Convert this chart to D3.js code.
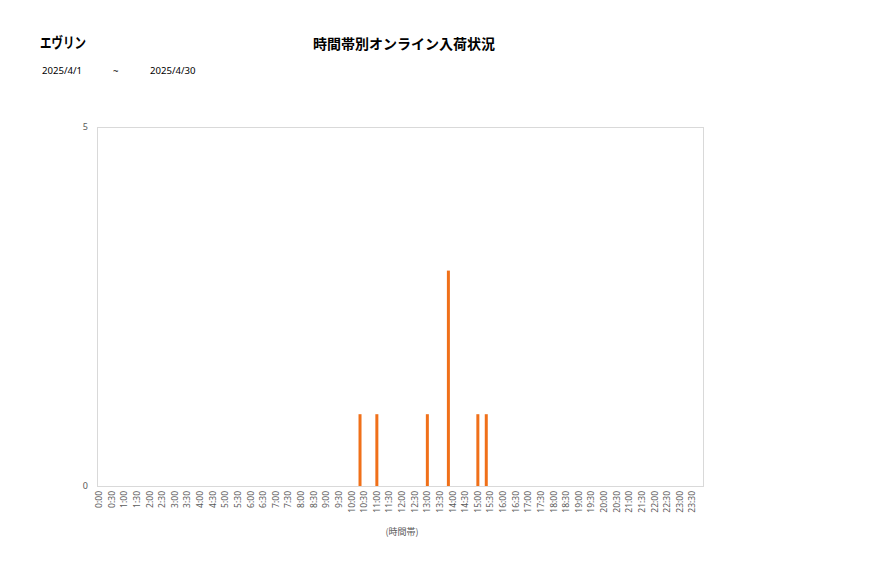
<!DOCTYPE html>
<html>
<head>
<meta charset="utf-8">
<script src="https://cdn.jsdelivr.net/npm/d3@7"></script>
<style>
html,body{margin:0;padding:0;background:#fff;}
svg{display:block;}
text{font-family:"Noto Sans CJK JP","Noto Sans",sans-serif;}
</style>
</head>
<body>
<svg id="chart" width="877" height="578"></svg>
<script>
// ---- data ----
const storeName = "エヴリン";
const chartTitle = "時間帯別オンライン入荷状況";
const dateFrom = "2025/4/1";
const dateSep = "~";
const dateTo = "2025/4/30";
const xAxisTitle = "(時間帯)";
// x-axis tick labels (every 30 minutes)
const tickLabels = ["0:00","0:30","1:00","1:30","2:00","2:30","3:00","3:30","4:00","4:30","5:00","5:30",
  "6:00","6:30","7:00","7:30","8:00","8:30","9:00","9:30","10:00","10:30","11:00","11:30",
  "12:00","12:30","13:00","13:30","14:00","14:30","15:00","15:30","16:00","16:30","17:00","17:30",
  "18:00","18:30","19:00","19:30","20:00","20:30","21:00","21:30","22:00","22:30","23:00","23:30"];
// 10-minute slots (category axis)
const slots = [];
for (let h = 0; h < 24; h++) for (let m = 0; m < 60; m += 10) slots.push(h + ":" + String(m).padStart(2, "0"));
// series: arrivals per slot (non-zero only)
const arrivalTimes = ["10:20","11:00","13:00","13:50","15:00","15:20"];
const arrivalCounts = [1, 1, 1, 3, 1, 1];
const yTicks = [0, 5];

// ---- chart ----
const svg = d3.select("#chart");
const plot = {left: 97, right: 703, top: 127, bottom: 486};

const xc = d3.scaleBand().domain(slots).range([plot.left, plot.right]);
const y = d3.scaleLinear().domain([0, 5]).range([plot.bottom, plot.top]);

// frame
svg.append("rect")
  .attr("x", plot.left + 0.5).attr("y", plot.top + 0.5)
  .attr("width", plot.right - plot.left).attr("height", plot.bottom - plot.top)
  .attr("fill", "none").attr("stroke", "#d9d9d9").attr("stroke-width", 1);

// bars
const data = arrivalTimes.map((t, i) => ({t, v: arrivalCounts[i]}));
svg.append("g").selectAll("rect").data(data).join("rect")
  .attr("x", d => xc(d.t) + xc.bandwidth() / 2 - 1.5)
  .attr("width", 3)
  .attr("y", d => y(d.v))
  .attr("height", d => y(0) - y(d.v))
  .attr("fill", "#f07019");

// y axis labels
const yAxis = d3.axisLeft(y).tickValues(yTicks).tickSize(0).tickPadding(8).tickFormat(d3.format("d"));
const gy = svg.append("g").attr("transform", `translate(${plot.left - 1},0)`).call(yAxis);
gy.select(".domain").remove();
gy.selectAll("text").attr("fill", "#595959").style("font-size", "9px")
  .style("font-family", '"Noto Sans","DejaVu Sans",sans-serif');

// x axis labels
const xAxis = d3.axisBottom(xc).tickValues(tickLabels).tickSize(0).tickPadding(0);
const gx = svg.append("g").attr("transform", `translate(0,${plot.bottom})`).call(xAxis);
gx.select(".domain").remove();
gx.selectAll("text")
  .attr("fill", "#595959")
  .style("font-size", "8.5px")
  .style("font-family", '"Noto Sans","DejaVu Sans",sans-serif')
  .attr("text-anchor", "end")
  .attr("dy", null)
  .attr("y", 0)
  .attr("transform", "translate(3,5) rotate(-90)");

// x axis title
svg.append("text").attr("x", 402).attr("y", 535).attr("text-anchor", "middle")
  .attr("fill", "#595959").style("font-size", "9px").text(xAxisTitle);

// headings
svg.append("text").attr("x", 40).attr("y", 48).style("font-size", "15px").style("font-weight", "bold")
  .attr("fill", "#000").attr("textLength", 46).attr("lengthAdjust", "spacingAndGlyphs").text(storeName);
svg.append("text").attr("x", 404).attr("y", 49).attr("text-anchor", "middle")
  .style("font-size", "14px").style("font-weight", "bold").attr("fill", "#000").text(chartTitle);
const dateStyle = g => g.style("font-size", "9.6px").attr("fill", "#000")
  .style("font-family", '"Noto Sans","DejaVu Sans",sans-serif');
svg.append("text").attr("x", 42).attr("y", 74).text(dateFrom).call(dateStyle);
svg.append("text").attr("x", 113).attr("y", 74).text(dateSep).call(dateStyle);
svg.append("text").attr("x", 150).attr("y", 74).text(dateTo).call(dateStyle);
</script>
</body>
</html>
